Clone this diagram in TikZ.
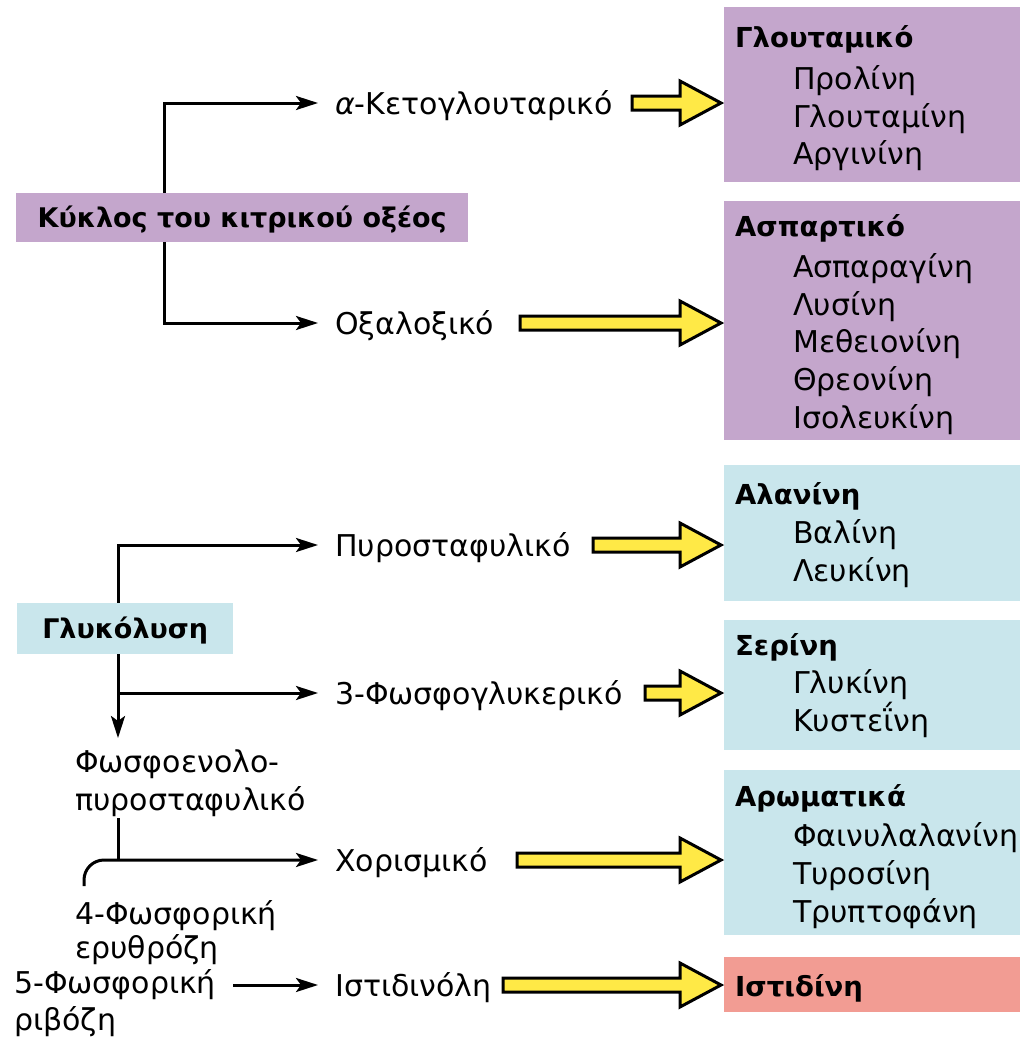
\documentclass[tikz,border=0pt]{standalone}
\usepackage{fontspec}
\setmainfont{DejaVu Sans}
\usetikzlibrary{arrows.meta}
\definecolor{purp}{HTML}{C4A6CC}
\definecolor{cyanbox}{HTML}{C9E6EC}
\definecolor{redbox}{HTML}{F29C93}
\definecolor{yel}{HTML}{FFE946}
\begin{document}
\begin{tikzpicture}[x=1pt,y=-1pt,
  lbl/.style={anchor=west, inner sep=0pt, text height=22pt, text depth=0pt, font=\fontsize{30}{36}\selectfont},
  txt/.style={anchor=base west, inner sep=0pt, font=\fontsize{30}{36}\selectfont},
  hdr/.style={anchor=base west, inner sep=0pt, font=\fontsize{27.5}{33}\selectfont\bfseries},
  colbox/.style={anchor=north west, inner sep=0pt, draw=none},
  srcbox/.style={anchor=north west, inner sep=0pt, draw=none, text height=19pt, text depth=0pt, font=\fontsize{27}{33}\selectfont\bfseries},
  line/.style={line width=3pt},
  conn/.style={line width=3pt, -{Stealth[length=22pt,width=14pt,inset=5pt]}, shorten >=17pt},
  yarrow/.style={line width=3pt, fill=yel, draw=black, line join=miter}
]
\useasboundingbox (0,0) rectangle (1020,1042);

% ---------- right boxes ----------
\node[colbox, fill=purp, minimum width=296pt, minimum height=175pt] (glu) at (724,7) {};
\node[colbox, fill=purp, minimum width=296pt, minimum height=239pt] (asp) at (724,201) {};
\node[colbox, fill=cyanbox, minimum width=296pt, minimum height=136pt] (ala) at (724,465) {};
\node[colbox, fill=cyanbox, minimum width=296pt, minimum height=130pt] (ser) at (724,620) {};
\node[colbox, fill=cyanbox, minimum width=296pt, minimum height=165pt] (aro) at (724,770) {};
\node[colbox, fill=redbox, minimum width=296pt, minimum height=55pt] (his) at (724,957) {};

\node[hdr] (h1) at (735,47) {Γλουταμικό};
\node[txt] (a11) at (793,89) {Προλίνη};
\node[txt] (a12) at (793,127) {Γλουταμίνη};
\node[txt] (a13) at (793,164) {Αργινίνη};

\node[hdr] (h2) at (735,236) {Ασπαρτικό};
\node[txt] (a21) at (793,277) {Ασπαραγίνη};
\node[txt] (a22) at (793,315) {Λυσίνη};
\node[txt] (a23) at (793,352) {Μεθειονίνη};
\node[txt] (a24) at (793,390) {Θρεονίνη};
\node[txt] (a25) at (793,428) {Ισολευκίνη};

\node[hdr] (h3) at (735,504) {Αλανίνη};
\node[txt] (a31) at (793,543) {Βαλίνη};
\node[txt] (a32) at (793,581) {Λευκίνη};

\node[hdr] (h4) at (735,655) {Σερίνη};
\node[txt] (a41) at (793,693) {Γλυκίνη};
\node[txt] (a42) at (793,731) {Κυστεΐνη};

\node[hdr] (h5) at (735,806) {Αρωματικά};
\node[txt] (a51) at (793,846) {Φαινυλαλανίνη};
\node[txt] (a52) at (793,884) {Τυροσίνη};
\node[txt] (a53) at (793,922) {Τρυπτοφάνη};

\node[hdr] (h6) at (735,996) {Ιστιδίνη};

% ---------- intermediate labels ----------
\node[lbl] (akg) at (335,103) {{\itshape α}-Κετογλουταρικό};
\node[lbl] (oxa) at (335,323) {Οξαλοξικό};
\node[lbl] (pyr) at (335,545) {Πυροσταφυλικό};
\node[lbl] (pg3) at (335,693) {3-Φωσφογλυκερικό};
\node[lbl] (cho) at (335,860) {Χορισμικό};
\node[lbl] (hol) at (335,985) {Ιστιδινόλη};

% ---------- yellow block arrows ----------
\foreach \xs/\yy in {632/103, 520/323, 593/545, 645/693, 517/860, 503/985}{
  \draw[yarrow, shift={(0,\yy)}] (\xs,-7) -- (680,-7) -- (680,-22) -- (721,0) -- (680,22) -- (680,7) -- (\xs,7) -- cycle;
}

% ---------- citric acid cycle ----------
\coordinate (k1) at (164,103);
\coordinate (k2) at (164,323);
\draw[conn] (k2) -- (k1) -- (akg.west);
\draw[conn] (k1) -- (k2) -- (oxa.west);
\node[srcbox, fill=purp, minimum width=452pt, minimum height=49pt] (tca) at (16,193) {Κύκλος του κιτρικού οξέος};

% ---------- glycolysis ----------
\coordinate (gt) at (118,545);
\coordinate (gm) at (118,693);
\coordinate (gd) at (118,738);
\draw[conn] (gm) -- (gt) -- (pyr.west);
\draw[conn] (gt) -- (gm) -- (pg3.west);
\draw[conn, shorten >=0pt] (gm) -- (gd);
\node[srcbox, fill=cyanbox, minimum width=216pt, minimum height=51pt] (gly) at (17,603) {Γλυκόλυση};

\node[txt] (pep1) at (75,772) {Φωσφοενολο-};
\node[txt] (pep2) at (75,810) {πυροσταφυλικό};
\coordinate (pb) at (118,818);
\coordinate (pj) at (118,860);
\draw[line] (pb) -- (pj);

\node[txt] (e41) at (75,924) {4-Φωσφορική};
\node[txt] (e42) at (75,958) {ερυθρόζη};
\coordinate (e4) at (84,886);
\draw[conn, rounded corners=20pt] (e4) |- (cho.west);

\node[txt] (r51) at (14,993) {5-Φωσφορική};
\node[txt] (r52) at (14,1030) {ριβόζη};
\draw[conn, shorten <=17pt] (r51.east |- hol.west) -- (hol.west);
\end{tikzpicture}
\end{document}
